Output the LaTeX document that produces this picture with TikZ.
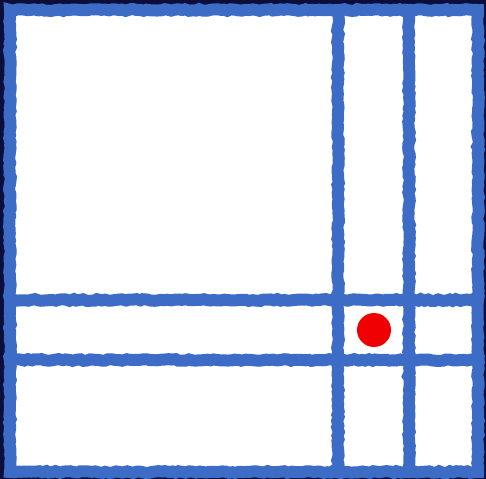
\documentclass[tikz,border=0pt]{standalone}
\usepackage{tikz}
\usetikzlibrary{decorations.pathmorphing}
\definecolor{navybg}{HTML}{0B0D3A}
\definecolor{chalkblue}{HTML}{3D6CC6}
\definecolor{dotred}{HTML}{F00000}

\begin{document}
\begin{tikzpicture}[x=0.02cm, y=-0.02cm,
    chalk/.style={draw=chalkblue, line width=0.24cm, line cap=rect,
      decorate, decoration={random steps, segment length=2pt, amplitude=0.5pt}}]
  % Dark background
  \fill[navybg] (0,0) rectangle (486,479);
  \useasboundingbox (0,0) rectangle (486,479);
  \fill[white] (10,10) rectangle (478,472);

  % Outer frame
  \draw[chalk] (10,10) -- (478,10) -- (478,472) -- (10,472) -- cycle;

  % Vertical bars
  \foreach \x in {338, 409} {
    \draw[chalk] (\x,10) -- (\x,472);
  }

  % Horizontal bars
  \foreach \y in {300, 360} {
    \draw[chalk] (10,\y) -- (478,\y);
  }

  % Marker
  \node[circle, fill=dotred, minimum size=0.68cm, inner sep=0pt] (dot) at (374,330) {};
\end{tikzpicture}
\end{document}
